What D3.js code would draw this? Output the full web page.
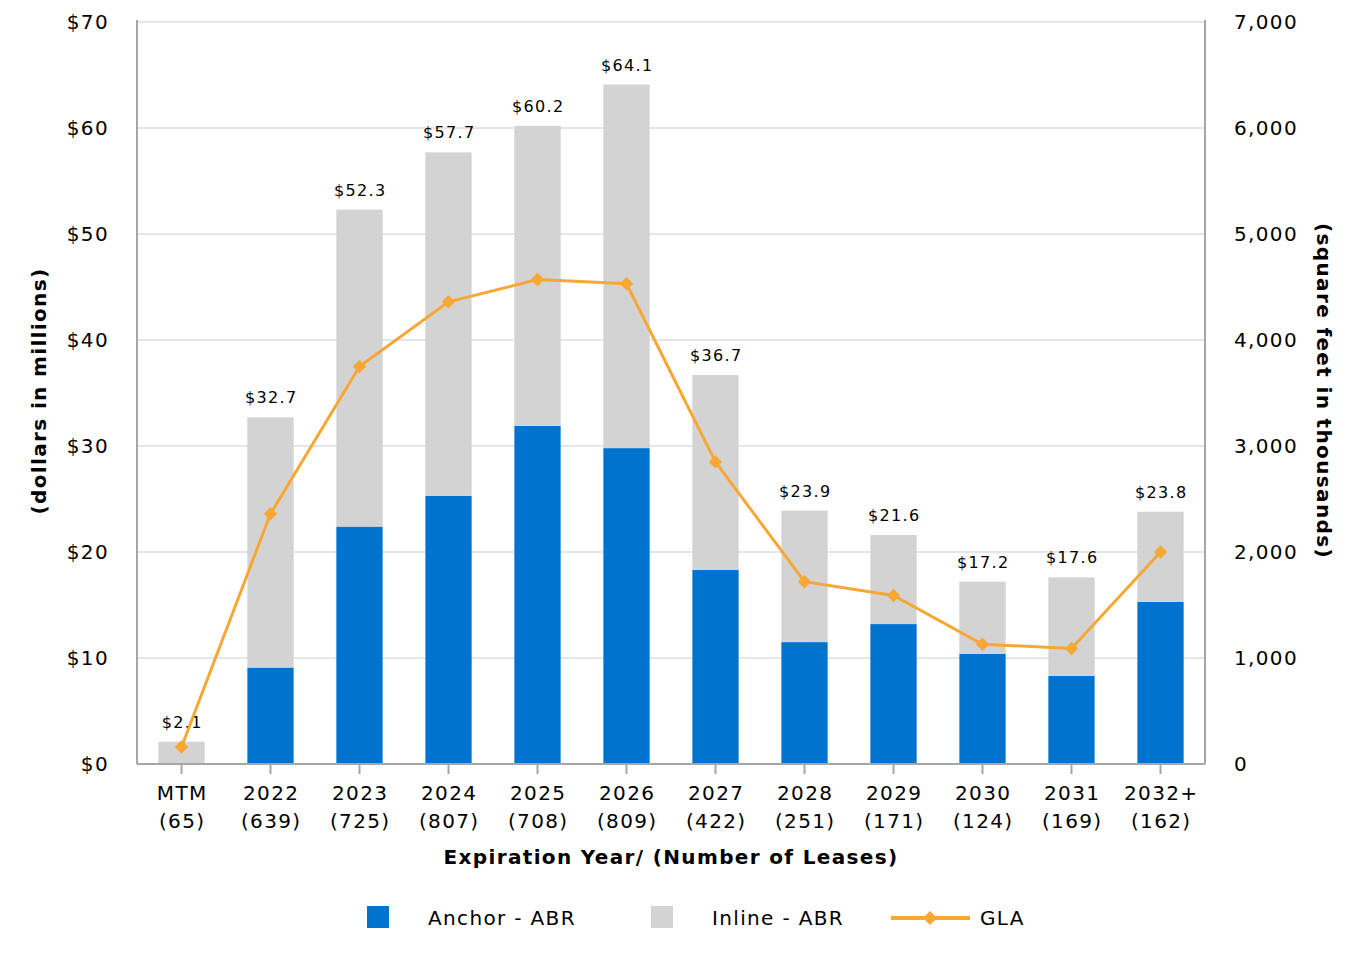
<!DOCTYPE html>
<html><head><meta charset="utf-8">
<script src="https://cdn.jsdelivr.net/npm/d3@7"></script>
<style>body{margin:0;background:#fff;} text{font-family:Verdana,"DejaVu Sans",sans-serif;fill:#000;}</style>
</head><body>
<svg id="c" width="1364" height="960"></svg>
<script>
const categories = ["MTM","2022","2023","2024","2025","2026","2027","2028","2029","2030","2031","2032+"];
const leases = ["(65)","(639)","(725)","(807)","(708)","(809)","(422)","(251)","(171)","(124)","(169)","(162)"];
const totalABR = [2.1,32.7,52.3,57.7,60.2,64.1,36.7,23.9,21.6,17.2,17.6,23.8];
const anchorABR = [0,9.1,22.4,25.3,31.9,29.8,18.3,11.5,13.2,10.4,8.3,15.3];
const inlineABR = totalABR.map((t,i)=>+(t-anchorABR[i]).toFixed(1));
const gla = [160,2360,3750,4360,4570,4530,2850,1720,1590,1130,1090,2000];
const leftTicks = [0,10,20,30,40,50,60,70];
const rightTicks = [0,1000,2000,3000,4000,5000,6000,7000];

const svg = d3.select("#c");
const L=137,R=1205,T=22,B=764;
const LS = "1.35px";
const x = d3.scaleBand().domain(categories).range([L,R]).paddingInner(0.48).paddingOuter(0.24);
const y = d3.scaleLinear().domain([0,70]).range([B,T]);
const y2 = d3.scaleLinear().domain([0,7000]).range([B,T]);

// gridlines
svg.append("g").selectAll("line").data(leftTicks.slice(1)).join("line")
  .attr("x1",L).attr("x2",R).attr("y1",d=>y(d)).attr("y2",d=>y(d))
  .attr("stroke","#e6e6e6").attr("stroke-width",2);

// bars
const g = svg.append("g");
categories.forEach((c,i)=>{
  g.append("rect").attr("x",x(c)).attr("width",x.bandwidth())
    .attr("y",y(anchorABR[i])).attr("height",y(0)-y(anchorABR[i])).attr("fill","#0073CF");
  g.append("rect").attr("x",x(c)).attr("width",x.bandwidth())
    .attr("y",y(anchorABR[i]+inlineABR[i])).attr("height",y(anchorABR[i])-y(anchorABR[i]+inlineABR[i])).attr("fill","#D3D3D3");
});

// axes lines
svg.append("line").attr("x1",L).attr("x2",L).attr("y1",T-2).attr("y2",B).attr("stroke","#a6a6a6").attr("stroke-width",2);
svg.append("line").attr("x1",R).attr("x2",R).attr("y1",T-2).attr("y2",B).attr("stroke","#a6a6a6").attr("stroke-width",2);
svg.append("line").attr("x1",L).attr("x2",R).attr("y1",B).attr("y2",B).attr("stroke","#a6a6a6").attr("stroke-width",2);
// x ticks
svg.append("g").selectAll("line").data(categories).join("line")
  .attr("x1",d=>x(d)+x.bandwidth()/2).attr("x2",d=>x(d)+x.bandwidth()/2)
  .attr("y1",B).attr("y2",B+10).attr("stroke","#a6a6a6").attr("stroke-width",2);

// left tick labels
svg.append("g").selectAll("text").data(leftTicks).join("text")
  .attr("x",109).attr("y",d=>y(d)+7).attr("text-anchor","end").attr("font-size",20).attr("letter-spacing",LS)
  .text(d=>"$"+d);
// right tick labels
svg.append("g").selectAll("text").data(rightTicks).join("text")
  .attr("x",1234).attr("y",d=>y2(d)+7).attr("text-anchor","start").attr("font-size",20).attr("letter-spacing",LS)
  .text(d=>d3.format(",")(d));

// x labels
const xl = svg.append("g");
categories.forEach((c,i)=>{
  const cx = x(c)+x.bandwidth()/2 + 0.7;
  xl.append("text").attr("x",cx).attr("y",800).attr("text-anchor","middle").attr("font-size",20).attr("letter-spacing",LS).text(c);
  xl.append("text").attr("x",cx).attr("y",828).attr("text-anchor","middle").attr("font-size",20).attr("letter-spacing",LS).text(leases[i]);
});

// value labels
svg.append("g").selectAll("text").data(categories).join("text")
  .attr("x",d=>x(d)+x.bandwidth()/2+0.7).attr("y",(d,i)=>y(totalABR[i])-14)
  .attr("text-anchor","middle").attr("font-size",16).attr("letter-spacing",LS)
  .text((d,i)=>"$"+totalABR[i].toFixed(1));

// line
const line = d3.line().x((d,i)=>x(categories[i])+x.bandwidth()/2).y(d=>y2(d));
svg.append("path").datum(gla).attr("d",line).attr("fill","none").attr("stroke","#F7A733").attr("stroke-width",3);
svg.append("g").selectAll("path").data(gla).join("path")
  .attr("d",d3.symbol(d3.symbolSquare,90))
  .attr("transform",(d,i)=>`translate(${x(categories[i])+x.bandwidth()/2},${y2(d)}) rotate(45)`)
  .attr("fill","#F7A733");

// titles
svg.append("text").attr("x",671).attr("y",864).attr("text-anchor","middle").attr("font-size",20).attr("font-weight","bold").attr("letter-spacing",LS)
  .text("Expiration Year/ (Number of Leases)");
svg.append("text").attr("transform","translate(46,391) rotate(-90)").attr("text-anchor","middle").attr("font-size",20).attr("font-weight","bold").attr("letter-spacing",LS)
  .text("(dollars in millions)");
svg.append("text").attr("transform","translate(1317,391) rotate(90)").attr("text-anchor","middle").attr("font-size",20).attr("font-weight","bold").attr("letter-spacing",LS)
  .text("(square feet in thousands)");

// legend
const lg = svg.append("g");
lg.append("rect").attr("x",367).attr("y",906).attr("width",22).attr("height",22).attr("fill","#0073CF");
lg.append("text").attr("x",428).attr("y",925).attr("font-size",20).attr("letter-spacing",LS).text("Anchor - ABR");
lg.append("rect").attr("x",651).attr("y",906).attr("width",22).attr("height",22).attr("fill","#D3D3D3");
lg.append("text").attr("x",712).attr("y",925).attr("font-size",20).attr("letter-spacing",LS).text("Inline - ABR");
lg.append("line").attr("x1",891).attr("x2",970).attr("y1",918).attr("y2",918).attr("stroke","#F7A733").attr("stroke-width",4);
lg.append("path").attr("d",d3.symbol(d3.symbolSquare,100)).attr("transform","translate(930,918) rotate(45)").attr("fill","#F7A733");
lg.append("text").attr("x",980).attr("y",925).attr("font-size",20).attr("letter-spacing",LS).text("GLA");
</script>
</body></html>
